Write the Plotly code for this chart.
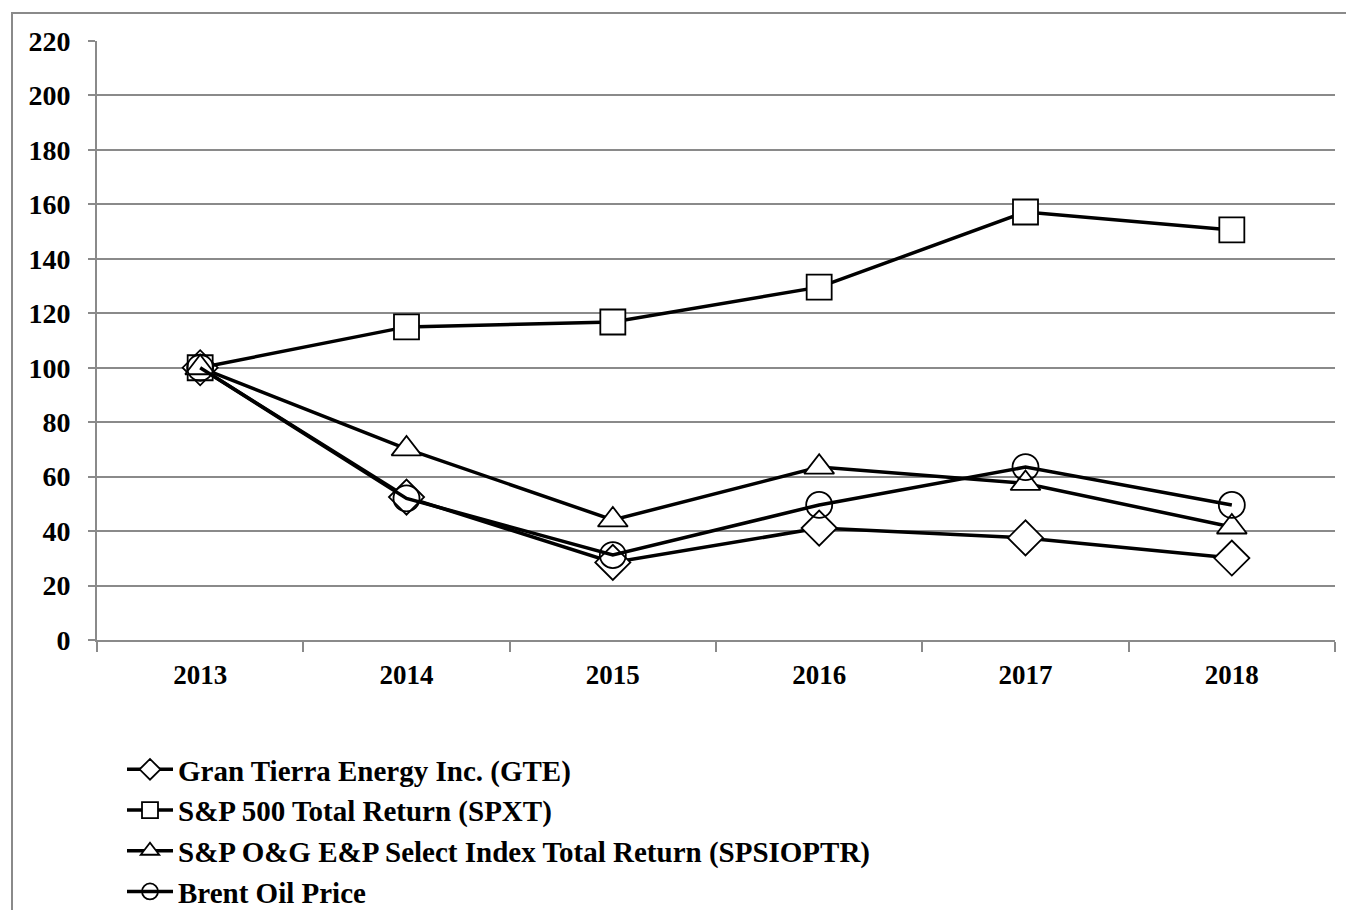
import plotly.graph_objects as go

years = ["2013", "2014", "2015", "2016", "2017", "2018"]
gte = [100, 52.5, 28.5, 41.1, 37.5, 30.1]
spxt = [100, 115.0, 116.8, 129.6, 157.2, 150.6]
spsioptr = [100, 70.2, 44.1, 63.5, 57.5, 41.5]
brent = [100, 52.0, 31.2, 49.6, 63.5, 49.6]

names = [
    "Gran Tierra Energy Inc. (GTE)",
    "S&P 500 Total Return (SPXT)",
    "S&P O&G E&P Select Index Total Return (SPSIOPTR)",
    "Brent Oil Price",
]
y_ticks = [0, 20, 40, 60, 80, 100, 120, 140, 160, 180, 200, 220]

FONT = "Liberation Serif"

series = [
    (names[0], gte, "diamond", 27, "white"),
    (names[1], spxt, "square", 25, "white"),
    (names[2], spsioptr, "triangle-up", 26, "white"),
    (names[3], brent, "circle", 26, "rgba(0,0,0,0)"),
]

fig = go.Figure()
for name, vals, sym, size, fill in series:
    fig.add_trace(go.Scatter(
        x=years, y=vals, name=name, mode="lines+markers",
        line=dict(color="black", width=3.5),
        marker=dict(symbol=sym, size=size, color=fill,
                    line=dict(color="black", width=1.8)),
        cliponaxis=False,
    ))

# page offset (body margin) compensation
OFF = 8
W, H = 1354, 910
# desired screen positions of plot area
SX0, SX1, SY0, SY1 = 97, 1335, 41, 640
L, T = SX0 - OFF, SY0 - OFF
R, B = W - (SX1 - OFF), H - (SY1 - OFF)
pw, ph = W - L - R, H - T - B
def px(x):
    return (x - SX0) / pw
def py(y):
    return (SY1 - y) / ph

fig.add_shape(type="rect", xref="paper", yref="paper",
              x0=px(12), x1=px(1351), y0=py(915), y1=py(13),
              line=dict(color="#8a8a8a", width=2), fillcolor="rgba(0,0,0,0)", layer="below")

fig.update_layout(
    width=W, height=H,
    margin=dict(l=L, r=R, t=T, b=B, autoexpand=False),
    paper_bgcolor="white", plot_bgcolor="white",
    font=dict(family=FONT, color="black", size=27, weight="bold"),
    showlegend=True,
    legend=dict(
        x=px(122), y=py(744), xanchor="left", yanchor="top",
        font=dict(family=FONT, size=29, color="black", weight="bold"),
        itemwidth=46, tracegroupgap=0, bgcolor="rgba(0,0,0,0)",
    ),
    xaxis=dict(
        type="category", range=[-0.5, 5.5], tickson="boundaries",
        showgrid=False, showline=True, linecolor="#8a8a8a", linewidth=2,
        ticks="outside", ticklen=10, tickwidth=1.5, tickcolor="#8a8a8a",
        tickfont=dict(family=FONT, size=27, color="black", weight="bold"),
        ticklabelstandoff=10,
    ),
    yaxis=dict(
        range=[0, 220], tickmode="array", tickvals=y_ticks,
        showgrid=True, gridcolor="#8a8a8a", gridwidth=2,
        zeroline=False, showline=True, linecolor="#8a8a8a", linewidth=2,
        ticks="outside", ticklen=7, tickwidth=1.5, tickcolor="#8a8a8a",
        tickfont=dict(family=FONT, size=28, color="black", weight="bold"),
        ticklabelstandoff=12,
    ),
)

fig.write_html("out.html")
